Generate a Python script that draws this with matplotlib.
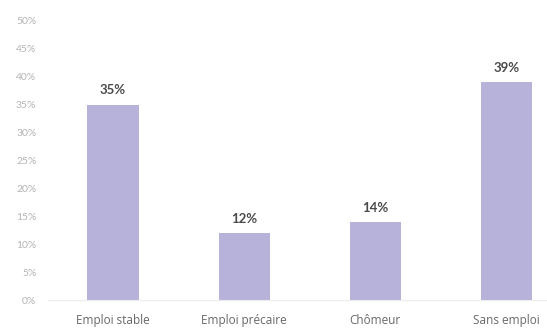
import matplotlib.pyplot as plt
from matplotlib.ticker import FuncFormatter

categories = ["Emploi stable", "Emploi précaire", "Chômeur", "Sans emploi"]
shares = [35, 12, 14, 39]
y_ticks = [0, 5, 10, 15, 20, 25, 30, 35, 40, 45, 50]

plt.rcParams['font.family'] = ['Lato', 'DejaVu Sans']

fig = plt.figure(figsize=(5.47, 3.31), dpi=100)
ax = fig.add_axes([47.5 / 547, 31 / 331, 499.5 / 547, 279 / 331])

x = range(len(categories))
bars = ax.bar(x, shares, width=0.39, color="#b7b2da", zorder=2)

for rect, val in zip(bars, shares):
    ax.annotate(f"{val}%", (rect.get_x() + rect.get_width() / 2, val),
                xytext=(0, 6), textcoords="offset points",
                ha="center", va="bottom", fontsize=9.5, fontweight="bold",
                color="#4a4a4a")

ax.set_xlim(-0.5, 3.31)
ax.set_ylim(0, 50)
ax.set_yticks(y_ticks)
ax.yaxis.set_major_formatter(FuncFormatter(lambda v, _: f"{v:.0f}%"))
ax.set_xticks(list(x))
ax.set_xticklabels(categories, family=['Open Sans', 'DejaVu Sans'])

ax.tick_params(axis="y", length=0, pad=8, labelsize=7.5, labelcolor="#b4b4b4")
ax.tick_params(axis="x", length=0, pad=10, labelsize=8.5, labelcolor="#686868")

for side in ["top", "right", "left"]:
    ax.spines[side].set_visible(False)
ax.spines["bottom"].set_color("#ececec")
ax.spines["bottom"].set_linewidth(0.8)

fig.savefig("out.png", dpi=100)
